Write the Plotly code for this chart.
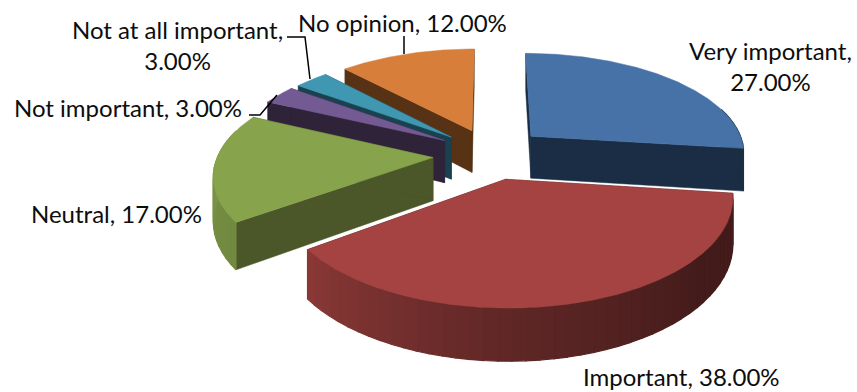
import numpy as np
import plotly.graph_objects as go

categories = ["Very important", "Important", "Neutral", "Not important", "Not at all important", "No opinion"]
values = [27.0, 38.0, 17.0, 3.0, 3.0, 12.0]
top_colors = ["#4672A8", "#A44341", "#87A34C", "#745A93", "#3F97B1", "#D77F3A"]
face_colors = ["#1A2D45", "#431A18", "#4B5728", "#2E2338", "#1A4150", "#573214"]
explode = [0.26, 0.28, 0.265, 0.25, 0.245, 0.235]
nudge_y = [1, -1, 3, 1, 1, 0]
draw_order = [0, 5, 4, 3, 2, 1]
label_lines = [["Very important,", "27.00%"], ["Important, 38.00%"], ["Neutral, 17.00%"],
               ["Not important, 3.00%"], ["Not at all important,", "3.00%"], ["No opinion, 12.00%"]]
label_pos = [(770, 66), (681, 376), (116, 213), (128, 107), (177, 45), (402, 22)]
leaders = [None, None, None, [(249, 115), (260, 115), (277, 95)],
           [(287, 37), (305, 37), (310, 79)], [(404, 36), (404, 54)]]

CX, CY, RX, K, P, H = 490.0, 152.0, 215.0, 100.0, 0.15, 43.0


def project(u, v, z=0.0, dy=0.0):
    s = 1.0 / (1.0 + P * v)
    return CX + RX * u * s, CY + dy - K * v * s + z * H * s


def wall_shade(deg):
    return np.interp(deg, [90, 130, 180, 234, 262, 295], [0.40, 0.41, 0.58, 0.84, 0.88, 1.0])


def shade(hex_color, f):
    rgb = [int(hex_color[i:i + 2], 16) for i in (1, 3, 5)]
    return "rgb({},{},{})".format(*[int(round(c * f)) for c in rgb])


fig = go.Figure()


def poly(pts, color, width=0.5):
    xs, ys = zip(*pts)
    fig.add_trace(go.Scatter(x=list(xs) + [xs[0]], y=list(ys) + [ys[0]], mode="lines", fill="toself",
                             fillcolor=color, line=dict(color=color, width=width),
                             hoverinfo="skip", showlegend=False))


edges = np.cumsum([0.0] + values) / sum(values) * 360.0
for i in draw_order:
    a0, a1 = edges[i], edges[i + 1]
    mid = np.radians((a0 + a1) / 2)
    ou, ov = explode[i] * np.sin(mid), explode[i] * np.cos(mid)
    d = nudge_y[i]
    n = max(3, int((a1 - a0) / 3))
    th = np.linspace(a0, a1, n + 1)
    fine = np.linspace(a0, a1, int(a1 - a0) * 2 + 3)
    rim = [(ou + np.sin(np.radians(t)), ov + np.cos(np.radians(t))) for t in th]
    fine_rim = [(ou + np.sin(np.radians(t)), ov + np.cos(np.radians(t))) for t in fine]
    # cut faces
    for (u, v) in (rim[0], rim[-1]):
        poly([project(ou, ov, 0, d), project(u, v, 0, d), project(u, v, 1, d), project(ou, ov, 1, d)],
             face_colors[i])
    # outer wall, shaded segment by segment
    for j in range(n):
        t = (th[j] + th[j + 1]) / 2
        if np.cos(np.radians(t)) < 0.3:
            c = shade(top_colors[i], wall_shade(t))
            seg = [(ou + np.sin(np.radians(q)), ov + np.cos(np.radians(q)))
                   for q in np.linspace(th[j], th[j + 1], 4)]
            poly([project(*q, 0, d) for q in seg] + [project(*q, 1, d) for q in reversed(seg)], c, width=1.2)
    # top face
    poly([project(ou, ov, 0, d)] + [project(u, v, 0, d) for u, v in fine_rim], top_colors[i])

for path in leaders:
    if path:
        xs, ys = zip(*path)
        fig.add_trace(go.Scatter(x=xs, y=ys, mode="lines", line=dict(color="black", width=1.5),
                                 hoverinfo="skip", showlegend=False))

for lines, (x, y) in zip(label_lines, label_pos):
    fig.add_annotation(x=x, y=y, xref="x", yref="y", text="<br>".join(lines), showarrow=False,
                       align="center", font=dict(family="Lato", size=24, color="#0d0d0d"))

fig.update_layout(width=857, height=392, margin=dict(l=0, r=0, t=0, b=0), paper_bgcolor="white",
                  plot_bgcolor="white", showlegend=False,
                  xaxis=dict(range=[0, 857], visible=False, fixedrange=True),
                  yaxis=dict(range=[392, 0], visible=False, fixedrange=True))
fig.write_html("out.html", config={"displayModeBar": False},
               post_script="document.body.style.margin='0';document.body.style.overflow='hidden';")
